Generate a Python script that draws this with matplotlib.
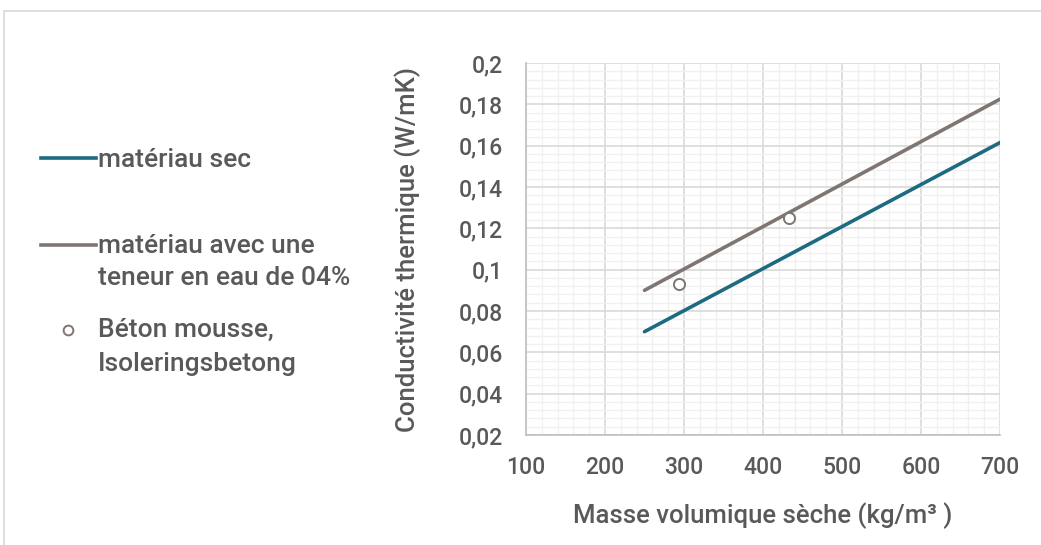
import matplotlib
matplotlib.use("Agg")
import matplotlib.pyplot as plt
from matplotlib.ticker import MultipleLocator, FuncFormatter
from matplotlib.lines import Line2D
from matplotlib.patches import Rectangle

# Data
x_line = [250, 700]
dry = [0.070, 0.1615]
wet = [0.090, 0.1825]
pts_x = [294, 433]
pts_y = [0.093, 0.125]
labels = ["matériau sec", "matériau avec une\nteneur en eau de 04%", "Béton mousse,\nIsoleringsbetong"]
xlabel = "Masse volumique sèche (kg/m³ )"
ylabel = "Conductivité thermique (W/mK)"

plt.rcParams['font.family'] = ['Roboto', 'DejaVu Sans']
txt = '#595959'
c_dry = '#1c6b80'
c_wet = '#7f7672'
W = 'medium'

fig = plt.figure(figsize=(10.41, 5.45), dpi=100)
fig.patches.append(Rectangle((4/1041, -0.1), 1.2, 534/545 + 0.1, transform=fig.transFigure,
                             fill=False, edgecolor='#d9d9d9', lw=1.2, zorder=0))
ax = fig.add_axes([526/1041, 1 - 435/545, 474/1041, 372/545])

ax.plot(x_line, dry, color=c_dry, lw=2.6, solid_capstyle='round', zorder=3)
ax.plot(x_line, wet, color=c_wet, lw=2.6, solid_capstyle='round', zorder=3)
ax.plot(pts_x, pts_y, 'o', ms=8, mfc='white', mec=c_wet, mew=1.4, zorder=4)

ax.set_xlim(100, 700)
ax.set_ylim(0.02, 0.2)
ax.xaxis.set_major_locator(MultipleLocator(100))
ax.xaxis.set_minor_locator(MultipleLocator(20))
ax.yaxis.set_major_locator(MultipleLocator(0.02))
ax.yaxis.set_minor_locator(MultipleLocator(0.004))
ax.yaxis.set_major_formatter(FuncFormatter(lambda v, p: ('%g' % round(v, 3)).replace('.', ',')))
ax.grid(which='major', color='#d9d9d9', lw=1.2)
ax.grid(which='minor', color='#f0f0f0', lw=1.0)
ax.set_axisbelow(True)
for s in ['top', 'right']:
    ax.spines[s].set_visible(False)
for s in ['left', 'bottom']:
    ax.spines[s].set_color('#bfbfbf')
    ax.spines[s].set_linewidth(1.2)
ax.tick_params(which='both', length=0, labelsize=16.5, labelcolor=txt)
ax.tick_params(axis='x', pad=15)
ax.tick_params(axis='y', pad=16.5)
for lab in ax.get_xticklabels() + ax.get_yticklabels():
    lab.set_fontweight(W)
ax.set_xlabel(xlabel, fontsize=18.5, color=txt, labelpad=17, fontweight=W)
ax.set_ylabel(ylabel, fontsize=18.5, color=txt, labelpad=27, fontweight=W)

# Legend (manual)
def fx(px): return px / 1041
def fy(py): return 1 - py / 545
fs = 19
fig.add_artist(Line2D([fx(41), fx(96)], [fy(158), fy(158)], color=c_dry, lw=2.6, transform=fig.transFigure))
fig.text(fx(98), fy(160), labels[0], fontsize=fs, color=txt, va='center', ha='left', fontweight=W)
fig.add_artist(Line2D([fx(41), fx(96)], [fy(245), fy(245)], color=c_wet, lw=2.6, transform=fig.transFigure))
fig.text(fx(98), fy(234), labels[1], fontsize=fs, color=txt, va='top', ha='left',
         linespacing=1.42, fontweight=W)
fig.add_artist(Line2D([fx(68)], [fy(330)], marker='o', ms=7, mfc='white', mec=c_wet, mew=1.4,
                      transform=fig.transFigure))
fig.text(fx(98), fy(318), labels[2], fontsize=fs, color=txt, va='top', ha='left', linespacing=1.5,
         fontweight=W)

fig.savefig('out.png', dpi=100)
